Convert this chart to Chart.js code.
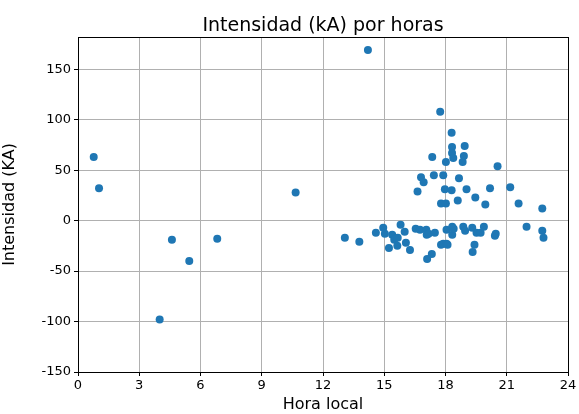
<!DOCTYPE html>
<html><head><meta charset="utf-8">
<script src="https://cdn.jsdelivr.net/npm/chart.js@4/dist/chart.umd.min.js"></script>
<style>html,body{margin:0;padding:0;background:#fff}#wrap{width:579px;height:414px}</style>
</head><body><div id="wrap"><canvas id="c" width="579" height="414"></canvas></div>
<script>
const hours = [0.77,1.03,4.0,4.6,5.45,6.82,10.66,13.07,13.78,14.2,14.59,14.95,15.03,15.23,15.39,15.49,15.64,15.66,15.8,16.0,16.06,16.26,16.54,16.63,16.75,16.8,16.93,17.06,17.08,17.1,17.17,17.33,17.35,17.43,17.48,17.74,17.78,17.78,17.89,17.89,17.97,18.02,18.02,18.05,18.05,18.1,18.3,18.3,18.32,18.32,18.33,18.33,18.38,18.4,18.6,18.66,18.84,18.87,18.9,18.94,18.96,19.03,19.31,19.33,19.42,19.46,19.52,19.72,19.88,19.95,20.18,20.42,20.46,20.55,21.17,21.58,21.97,22.74,22.74,22.8];
const intensity = [63,32,-98,-19,-40,-18,28,-17,-21,169,-12,-7,-13,-27,-14,-19,-25,-17,-4,-11,-22,-29,-8,29,-9,43,38,-9,-14,-38,-13,-33,63,45,-12,108,17,-24,45,-23,31,17,58,-9,-23,-24,87,30,73,67,-6,-14,62,-8,20,42,58,-6,64,74,-10,31,-7,-31,-24,23,-12,-12,-6,16,32,-15,-13,54,33,17,-6,12,-10,-17];
const xTicks = [0,3,6,9,12,15,18,21,24];
const yTicks = [-150,-100,-50,0,50,100,150];
const titleText = 'Intensidad (kA) por horas';

const points = hours.map((h,i)=>({x:h,y:intensity[i]}));
const frame = {id:'frame',
  afterDatasetsDraw(ch){const a=ch.chartArea,c=ch.ctx;c.save();c.strokeStyle='#000';c.lineWidth=1;c.strokeRect(Math.round(a.left)+0.5,Math.round(a.top)+0.5,Math.round(a.right-a.left),Math.round(a.bottom-a.top));
    c.fillStyle='#000';c.font='19px "DejaVu Sans"';c.textAlign='center';c.textBaseline='alphabetic';c.fillText(titleText,(a.left+a.right)/2,30.5);c.restore();}};
new Chart(document.getElementById('c'),{
  type:'scatter',
  data:{datasets:[{data:points,backgroundColor:'#1f77b4',borderColor:'#1f77b4',pointRadius:4,pointHoverRadius:4,borderWidth:0}]},
  options:{
    responsive:false,animation:false,devicePixelRatio:1,
    layout:{padding:{left:0,right:11,top:37,bottom:0}},
    plugins:{legend:{display:false},tooltip:{enabled:false},title:{display:false}},
    scales:{
      x:{type:'linear',min:0,max:24,
        afterBuildTicks(s){s.ticks=xTicks.map(v=>({value:v}));},
        afterFit(s){s.height=42;},
        ticks:{color:'#000',font:{family:'DejaVu Sans',size:13},padding:2,maxRotation:0},
        grid:{color:'#b0b0b0',lineWidth:1,tickColor:'#000',tickLength:4},
        border:{color:'#000'},
        title:{display:true,text:'Hora local',color:'#000',font:{family:'DejaVu Sans',size:16},padding:{top:1,bottom:0}}},
      y:{type:'linear',min:-150,max:182,
        afterBuildTicks(s){s.ticks=yTicks.map(v=>({value:v}));},
        afterFit(s){s.width=78;},
        ticks:{color:'#000',font:{family:'DejaVu Sans',size:13},padding:3},
        grid:{color:'#b0b0b0',lineWidth:1,tickColor:'#000',tickLength:4},
        border:{color:'#000'},
        title:{display:true,text:'Intensidad (KA)',color:'#000',font:{family:'DejaVu Sans',size:16},padding:{top:0,bottom:4}}}
    }
  },
  plugins:[frame]
});
</script></body></html>
